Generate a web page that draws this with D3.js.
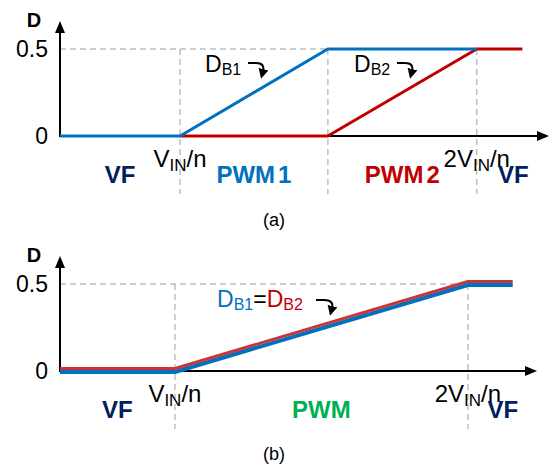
<!DOCTYPE html>
<html>
<head>
<meta charset="utf-8">
<script src="https://cdn.jsdelivr.net/npm/d3@7"></script>
<style>
  body { margin: 0; background: #fff; }
  text { font-family: "Liberation Sans", Arial, sans-serif; }
</style>
</head>
<body>
<div id="chart"></div>
<script>
// schematic x positions (V_IN/n = 1)
var dTicks = [0, 0.5];
var dTickLabels = ["0", "0.5"];

var aDB1 = [{v: 0, d: 0}, {v: 1, d: 0}, {v: 2.23, d: 0.5}, {v: 3.47, d: 0.5}];
var aDB2 = [{v: 1, d: 0}, {v: 2.23, d: 0}, {v: 3.47, d: 0.5}, {v: 3.85, d: 0.5}];
var aGuides = [1, 2.23, 3.47];
var aVTicks = [1, 3.47];
var aBounds = [0, 1, 2.23, 3.47, 4.08];
var aRegions = ["VF", "PWM1", "PWM2", "VF"];

var bDB = [{v: 0, d: 0}, {v: 1, d: 0}, {v: 3.55, d: 0.5}, {v: 3.94, d: 0.5}];
var bGuides = [1, 3.55];
var bVTicks = [1, 3.55];
var bBounds = [0, 1, 3.55, 4.16];
var bRegions = ["VF", "PWM", "VF"];

var vTickLabels = [["", "V", "IN", "/n"], ["2", "V", "IN", "/n"]];

var blue = "#0070C0", red = "#C00000", navy = "#002060", green = "#00B050";
var regionColor = {"VF": navy, "PWM1": blue, "PWM2": red, "PWM": green};

var svg = d3.select("#chart").append("svg")
    .attr("width", 554)
    .attr("height", 469);

var defs = svg.append("defs");
defs.append("marker")
    .attr("id", "axArrow")
    .attr("markerUnits", "userSpaceOnUse")
    .attr("viewBox", "0 0 12 10")
    .attr("refX", 1).attr("refY", 5)
    .attr("markerWidth", 12).attr("markerHeight", 10)
    .attr("orient", "auto")
    .append("path").attr("d", "M0,0L12,5L0,10Z").attr("fill", "#000");
defs.append("marker")
    .attr("id", "smArrow")
    .attr("markerUnits", "userSpaceOnUse")
    .attr("viewBox", "0 0 10 10")
    .attr("refX", 2).attr("refY", 5)
    .attr("markerWidth", 10).attr("markerHeight", 10)
    .attr("orient", "auto")
    .append("path").attr("d", "M0,0L10,5L0,10Z").attr("fill", "#000");

function drawPanel(opt) {
    var x = d3.scaleLinear().domain([0, opt.xMax]).range([60, opt.xEnd]);
    var y = d3.scaleLinear().domain([0, 0.5]).range([opt.y0, opt.y0 - 87]);
    var g = svg.append("g");
    var line = d3.line().x(function (d) { return x(d.v); }).y(function (d) { return y(d.d); });

    // dashed guides
    g.append("line")
        .attr("x1", x(0)).attr("x2", x(opt.guides[opt.guides.length - 1]))
        .attr("y1", y(0.5)).attr("y2", y(0.5))
        .attr("stroke", "#bfbfbf").attr("stroke-width", 1.5).attr("stroke-dasharray", "6,4");
    g.selectAll(".guide").data(opt.guides).enter().append("line")
        .attr("x1", function (d) { return x(d); }).attr("x2", function (d) { return x(d); })
        .attr("y1", y(0.5)).attr("y2", y(0) + 58)
        .attr("stroke", "#bfbfbf").attr("stroke-width", 1.5).attr("stroke-dasharray", "6,4");

    // axes
    g.append("line")
        .attr("x1", x(0)).attr("y1", y(0)).attr("x2", x(opt.xMax) - 12).attr("y2", y(0))
        .attr("stroke", "#000").attr("stroke-width", 2).attr("marker-end", "url(#axArrow)");
    g.append("line")
        .attr("x1", x(0)).attr("y1", y(0) + 1).attr("x2", x(0)).attr("y2", y(0.5) - 17)
        .attr("stroke", "#000").attr("stroke-width", 2).attr("marker-end", "url(#axArrow)");

    var yAxis = d3.axisLeft(y).tickValues(dTicks)
        .tickFormat(function (d, i) { return dTickLabels[i]; })
        .tickSize(0).tickPadding(12);
    g.append("g").attr("transform", "translate(" + x(0) + ",0)").call(yAxis)
        .call(function (a) { a.select(".domain").remove(); })
        .selectAll("text")
        .attr("font-family", "Liberation Sans, Arial, sans-serif")
        .attr("font-size", 23).attr("fill", "#000");

    g.append("text").attr("x", 34).attr("y", y(0.5) - 22)
        .attr("text-anchor", "middle").attr("font-size", 20).attr("font-weight", "bold")
        .text("D");

    // series
    opt.series.forEach(function (s) {
        g.append("path").datum(s.data)
            .attr("d", line)
            .attr("transform", "translate(0," + (s.shift || 0) + ")")
            .attr("fill", "none").attr("stroke", s.color).attr("stroke-width", s.width)
            .attr("stroke-linejoin", "round");
    });

    // V tick labels
    opt.vTicks.forEach(function (v, i) {
        var parts = vTickLabels[i];
        var t = g.append("text").attr("x", x(v)).attr("y", y(0) + 31)
            .attr("text-anchor", "middle").attr("font-size", 24);
        t.append("tspan").text(parts[0] + parts[1]);
        t.append("tspan").attr("font-size", 17).attr("dy", 4).text(parts[2]);
        t.append("tspan").attr("dy", -4).text(parts[3]);
    });

    // regions
    opt.regions.forEach(function (r, i) {
        var t = g.append("text")
            .attr("x", (x(opt.bounds[i]) + x(opt.bounds[i + 1])) / 2)
            .attr("y", y(0) + 47)
            .attr("text-anchor", "middle").attr("font-size", 24).attr("font-weight", "bold")
            .attr("fill", regionColor[r]);
        if (/\d$/.test(r)) {
            t.append("tspan").text(r.slice(0, -1));
            t.append("tspan").attr("dx", 3).text(r.slice(-1));
        } else {
            t.text(r);
        }
    });

    g.append("text").attr("x", 274).attr("y", opt.y0 + opt.capDy)
        .attr("text-anchor", "middle").attr("font-size", 18).text(opt.caption);
    return g;
}

function dLabel(g, px, py, parts) {
    var t = g.append("text").attr("x", px).attr("y", py).attr("font-size", 23);
    parts.forEach(function (p) {
        t.append("tspan").attr("fill", p.c).attr("font-size", p.sub ? 16 : 23)
            .attr("dy", p.sub ? 3 : (p.up ? -3 : null)).text(p.t);
    });
}

function curlyArrow(g, sx, sy, ex, ey) {
    g.append("path")
        .attr("d", "M" + sx + "," + sy + "H" + (sx + 8) + "Q" + (ex - 3) + "," + sy + " " + (ex - 5) + "," + (ey - 6))
        .attr("fill", "none").attr("stroke", "#000").attr("stroke-width", 2)
        .attr("marker-end", "url(#smArrow)");
}

var ga = drawPanel({
    xMax: 4.08, xEnd: 550, y0: 136,
    guides: aGuides, vTicks: aVTicks, bounds: aBounds, regions: aRegions,
    series: [
        {data: aDB2, color: red, width: 3},
        {data: aDB1, color: blue, width: 3}
    ],
    caption: "(a)", capDy: 90
});
dLabel(ga, 205, 72, [{t: "D", c: "#000"}, {t: "B1", c: "#000", sub: true}]);
curlyArrow(ga, 248, 63, 268, 77);
dLabel(ga, 354, 72, [{t: "D", c: "#000"}, {t: "B2", c: "#000", sub: true}]);
curlyArrow(ga, 397, 63, 417, 77);

var gb = drawPanel({
    xMax: 4.16, xEnd: 538, y0: 371,
    guides: bGuides, vTicks: bVTicks, bounds: bBounds, regions: bRegions,
    series: [
        {data: bDB, color: blue, width: 4, shift: 1},
        {data: bDB, color: "#C8363A", width: 3, shift: -2.5}
    ],
    caption: "(b)", capDy: 89
});
dLabel(gb, 217, 307, [
    {t: "D", c: blue}, {t: "B1", c: blue, sub: true},
    {t: "=", c: "#000", up: true},
    {t: "D", c: red}, {t: "B2", c: red, sub: true}
]);
curlyArrow(gb, 316, 300, 337, 314);
</script>
</body>
</html>
